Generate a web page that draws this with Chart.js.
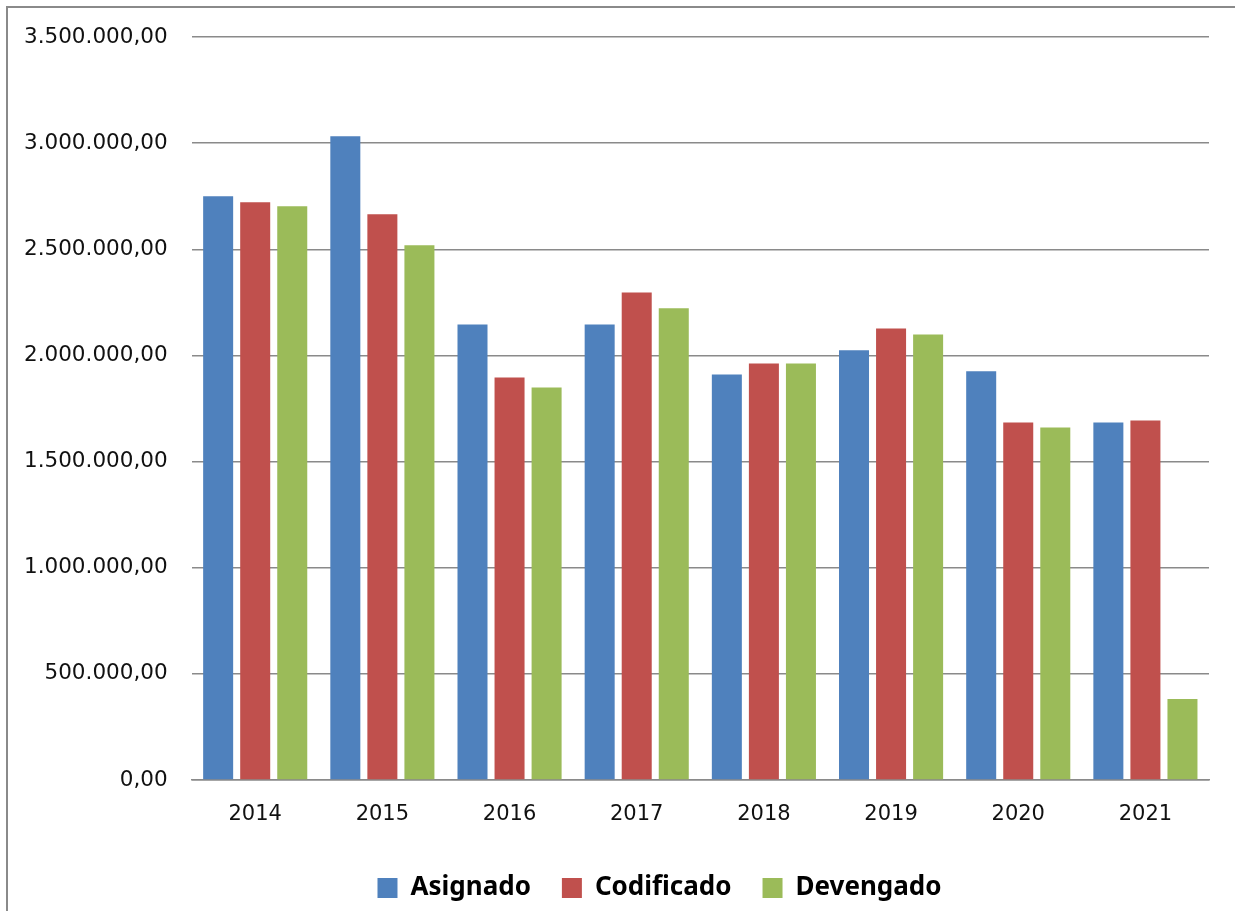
<!DOCTYPE html>
<html>
<head>
<meta charset="utf-8">
<script src="https://cdn.jsdelivr.net/npm/chart.js@4/dist/chart.umd.min.js"></script>
<style>
  body { margin: 0; background: #fff; overflow: hidden; }
  #frame { position: absolute; left: 6px; top: 6px; width: 1300px; height: 1000px; border: 2px solid #8a8a8a; box-sizing: border-box; }
  #chart { position: absolute; left: 0; top: 0; }
</style>
</head>
<body>
<div id="frame"></div>
<canvas id="chart" width="1235" height="911"></canvas>
<script>
const years = ['2014', '2015', '2016', '2017', '2018', '2019', '2020', '2021'];
const asignado   = [2750000, 3033000, 2146000, 2146000, 1910000, 2024000, 1925000, 1684000];
const codificado = [2722000, 2665000, 1896000, 2297000, 1962000, 2127000, 1684000, 1693000];
const devengado  = [2703000, 2519000, 1849000, 2222000, 1962000, 2099000, 1660000, 382000];
const yMax = 3500000;
const yStep = 500000;

// 3500000 -> "3.500.000,00"
function fmt(v) {
  const s = Math.round(v).toString().replace(/\B(?=(\d{3})+(?!\d))/g, '.');
  return s + ',00';
}

// the original legend sits a bit right of the canvas centre
const legendShift = {
  id: 'legendShift',
  afterLayout(chart) {
    chart.legend.left += 55;
    chart.legend.right += 55;
  }
};

const ctx = document.getElementById('chart').getContext('2d');
new Chart(ctx, {
  type: 'bar',
  data: {
    labels: years,
    datasets: [
      { label: 'Asignado', data: asignado, backgroundColor: '#4F81BD' },
      { label: 'Codificado', data: codificado, backgroundColor: '#C0504D' },
      { label: 'Devengado', data: devengado, backgroundColor: '#9BBB59' }
    ]
  },
  plugins: [legendShift],
  options: {
    responsive: false,
    animation: false,
    devicePixelRatio: 1,
    categoryPercentage: 0.874,
    barPercentage: 0.81,
    layout: { padding: { top: 37, right: 26, left: 0, bottom: 0 } },
    plugins: {
      tooltip: { enabled: false },
      legend: {
        position: 'bottom',
        labels: {
          boxWidth: 20,
          boxHeight: 20,
          padding: 31,
          color: '#000',
          font: { family: '"Noto Sans"', size: 26, weight: 'bold' }
        }
      }
    },
    scales: {
      x: {
        grid: { display: false },
        border: { display: true, color: '#8a8a8a', width: 1.5 },
        ticks: { color: '#111', padding: 14, font: { family: '"DejaVu Sans"', size: 21 } },
        afterFit: s => { s.height = 64; }
      },
      y: {
        min: 0,
        max: yMax,
        border: { display: false },
        grid: { color: '#8a8a8a', lineWidth: 1.5, drawTicks: false },
        ticks: {
          stepSize: yStep,
          padding: 24,
          color: '#111',
          font: { family: '"DejaVu Sans"', size: 21.5 },
          callback: v => fmt(v)
        }
      }
    }
  }
});
</script>
</body>
</html>
